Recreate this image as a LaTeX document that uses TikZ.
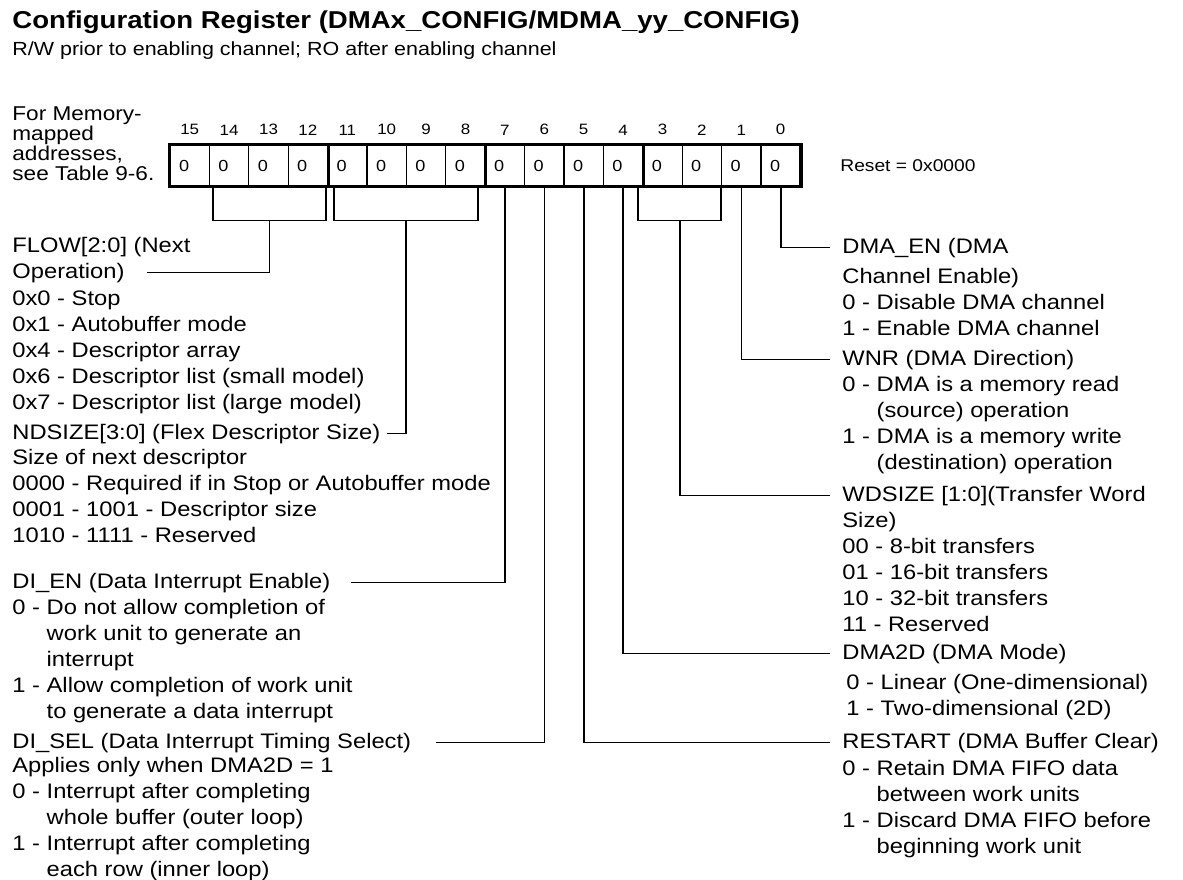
\documentclass[tikz,border=0pt]{standalone}
\usepackage{fontspec}
\setmainfont{Liberation Sans}[FakeStretch=1.13]
\usetikzlibrary{positioning}

\begin{document}
\begin{tikzpicture}[x=0.5pt, y=-0.5pt,
    cell/.style={draw, line width=0.6pt, minimum width=19.7pt, minimum height=20.5pt,
      inner ysep=0pt, inner xsep=4.5pt, text width=10.7pt, align=left,
      font=\fontsize{8}{8}\selectfont},
    bitnum/.style={inner sep=0pt, font=\fontsize{7.5}{7.5}\selectfont},
    head/.style={anchor=base west, inner sep=0pt, font=\fontsize{10.5}{13}\selectfont},
    desc/.style={anchor=north west, inner sep=0pt, align=left, font=\fontsize{10.5}{13}\selectfont},
    wire/.style={line width=0.8pt},
    lead/.style={wire, shorten >=#1},
    heavy/.style={line width=1.6pt}]
  \useasboundingbox (0,0) rectangle (1183,879);

  % Title
  \node[anchor=base west, inner sep=0pt, font=\fontsize{12.2}{14}\selectfont\bfseries] (title) at (12,28)
    {Configuration Register (DMAx\_CONFIG/MDMA\_yy\_CONFIG)};
  \node[anchor=base west, inner sep=0pt, font=\fontsize{9.5}{11}\selectfont] (rw) at (12,55)
    {R/W prior to enabling channel; RO after enabling channel};
  \node[desc, font=\fontsize{10}{10}\selectfont] (mmr) at (12,106)
    {For Memory-\\mapped\\addresses,\\see Table 9-6.};

  % Register cells
  \foreach \i in {15,...,0}
    \node[cell] (b\i) at ({189.7+39.4*(15-\i)},165.5) {0};
  \foreach \i in {15,...,0}
    \node[bitnum, above=4.5pt of b\i] {\i};
  \draw[heavy] (b15.north west) rectangle (b0.south east);
  \foreach \g in {12,8,4}
    \draw[heavy] (b\g.north east) -- (b\g.south east);
  \node[anchor=west, inner sep=0pt, font=\fontsize{8.5}{8.5}\selectfont, right=19.5pt of b0] (reset) {Reset = 0x0000};

  % Brackets
  \draw[wire] ([xshift=2pt]b14.south west) -- ++(0,34) -| coordinate[pos=0.25] (flowmid) ([xshift=-1pt]b12.south east);
  \draw[wire] ([xshift=3.5pt]b11.south west) -- ++(0,34) -| coordinate[pos=0.25] (ndmid) ([xshift=-4pt]b8.south east);
  \draw[wire] ([xshift=-2pt]b3.south west) -- ++(0,34) -| coordinate[pos=0.25] (wdmid) ([xshift=-0.5pt]b2.south east);

  % Left fields
  \node[head] (flowa) at (12,252) {FLOW[2:0] (Next};
  \node[head] (flowop) at (12,278) {Operation)};
  \node[desc] (flowdesc) at (12,290)
    {0x0 - Stop\\0x1 - Autobuffer mode\\0x4 - Descriptor array\\0x6 - Descriptor list (small model)\\0x7 - Descriptor list (large model)};
  \node[head] (ndsize) at (12,439) {NDSIZE[3:0] (Flex Descriptor Size)};
  \node[desc] (nddesc) at (12,449)
    {Size of next descriptor\\0000 - Required if in Stop or Autobuffer mode\\0001 - 1001 - Descriptor size\\1010 - 1111 - Reserved};
  \node[head] (dien) at (12,588) {DI\_EN (Data Interrupt Enable)};
  \node[desc] (diendesc) at (12,599)
    {0 - Do not allow completion of\\\phantom{0 - }work unit to generate an\\\phantom{0 - }interrupt\\1 - Allow completion of work unit\\\phantom{1 - }to generate a data interrupt};
  \node[head] (disel) at (12,748) {DI\_SEL (Data Interrupt Timing Select)};
  \node[desc] (diseldesc) at (12,757)
    {Applies only when DMA2D = 1\\0 - Interrupt after completing\\\phantom{0 - }whole buffer (outer loop)\\1 - Interrupt after completing\\\phantom{1 - }each row (inner loop)};

  % Right fields
  \node[head] (dmaen) at (842,253) {DMA\_EN (DMA};
  \node[desc] (dmaendesc) at (842,268)
    {Channel Enable)\\0 - Disable DMA channel\\1 - Enable DMA channel};
  \node[head] (wnr) at (842,365) {WNR (DMA Direction)};
  \node[desc] (wnrdesc) at (842,376)
    {0 - DMA is a memory read\\\phantom{0 - }(source) operation\\1 - DMA is a memory write\\\phantom{1 - }(destination) operation};
  \node[head] (wdsize) at (842,501) {WDSIZE [1:0](Transfer Word};
  \node[desc] (wdsizedesc) at (842,512)
    {Size)\\00 - 8-bit transfers\\01 - 16-bit transfers\\10 - 32-bit transfers\\11 - Reserved};
  \node[head] (dma2d) at (842,659) {DMA2D (DMA Mode)};
  \node[desc] (dma2ddesc) at (846,674)
    {0 - Linear (One-dimensional)\\1 - Two-dimensional (2D)};
  \node[head] (restart) at (842,748) {RESTART (DMA Buffer Clear)};
  \node[desc] (restartdesc) at (842,760)
    {0 - Retain DMA FIFO data\\\phantom{0 - }between work units\\1 - Discard DMA FIFO before\\\phantom{1 - }beginning work unit};

  % Leaders
  \draw[lead=11pt] (flowmid) |- (flowop.east);
  \draw[lead=3pt] (ndmid) |- (ndsize.east);
  \draw[lead=10pt] (b7.south) |- (dien.east);
  \draw[lead=12pt] (b6.south) |- (disel.east);
  \draw[lead=6pt] (b5.south) |- (restart.west);
  \draw[lead=6pt] (b4.south) |- (dma2d.west);
  \draw[lead=6pt] (wdmid) |- (wdsize.west);
  \draw[lead=6pt] (b1.south) |- (wnr.west);
  \draw[lead=6pt] (b0.south) |- (dmaen.west);
\end{tikzpicture}
\end{document}
